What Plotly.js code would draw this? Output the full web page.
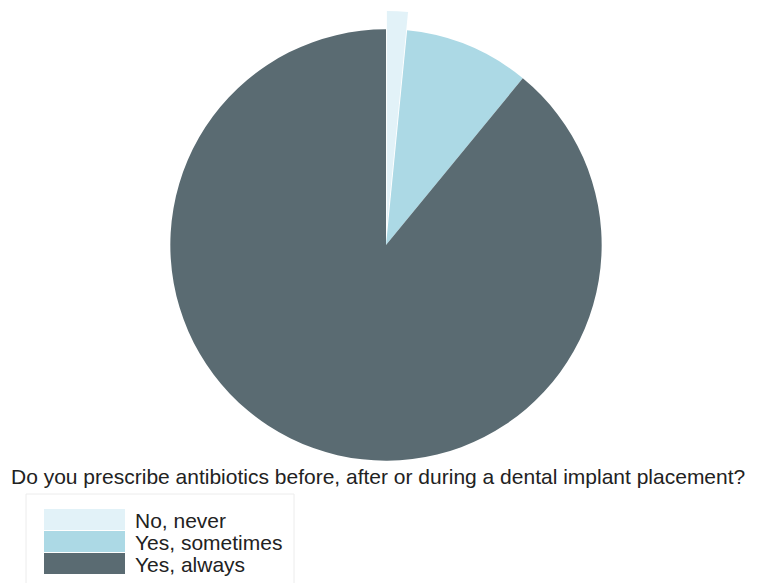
<!DOCTYPE html>
<html>
<head>
<meta charset="utf-8">
<script src="https://cdn.plot.ly/plotly-3.0.1.min.js"></script>
<style>html,body{margin:0;padding:0;background:#fff;}#chart{width:764px;height:583px;}</style>
</head>
<body>
<div id="chart"></div>
<script>
const categories = ["No, never", "Yes, sometimes", "Yes, always"];
const counts = [1, 6, 57];
const colors = ["#e2f2f8", "#acd9e5", "#5a6b72"];
const pulls = [0.085, 0, 0];
const question = "Do you prescribe antibiotics before, after or during a dental implant placement?";

const W = 764, H = 583;
const px = x => x / W;
const py = y => 1 - y / H;

const shapes = [{
  type: 'rect', xref: 'paper', yref: 'paper',
  x0: px(26), x1: px(294), y0: py(594), y1: py(494),
  line: {color: '#ececec', width: 1}, fillcolor: 'rgba(0,0,0,0)', layer: 'below'
}];
const annotations = [];
const rowTop = 509, rowH = 22;
categories.forEach((c, i) => {
  const t = rowTop + i * rowH;
  shapes.push({
    type: 'rect', xref: 'paper', yref: 'paper',
    x0: px(44), x1: px(125), y0: py(t + rowH - 1), y1: py(t),
    line: {width: 0}, fillcolor: colors[i]
  });
  annotations.push({
    xref: 'paper', yref: 'paper', x: px(133), y: py(t + rowH / 2 + 0.5),
    xanchor: 'left', yanchor: 'middle', showarrow: false, text: c,
    font: {family: 'Liberation Sans, Arial, sans-serif', size: 21, color: '#222'}
  });
});

const trace = {
  type: 'pie',
  labels: categories,
  values: counts,
  marker: {colors: colors, line: {width: 0}},
  pull: pulls,
  sort: false,
  direction: 'clockwise',
  rotation: 0,
  textinfo: 'none',
  hoverinfo: 'label+percent',
  showlegend: false,
  domain: {x: [px(386 - 234), px(386 + 234)], y: [py(245 + 234), py(245 - 234)]}
};

const layout = {
  width: W, height: H,
  margin: {l: 0, r: 0, t: 0, b: 0},
  paper_bgcolor: '#fff',
  showlegend: false,
  title: {
    text: question, xref: 'container', yref: 'container',
    x: px(11), xanchor: 'left', y: py(477), yanchor: 'middle',
    font: {family: 'Liberation Sans, Arial, sans-serif', size: 21, color: '#222'}
  },
  shapes: shapes,
  annotations: annotations
};

Plotly.newPlot('chart', [trace], layout, {displayModeBar: false, staticPlot: true});
</script>
</body>
</html>
